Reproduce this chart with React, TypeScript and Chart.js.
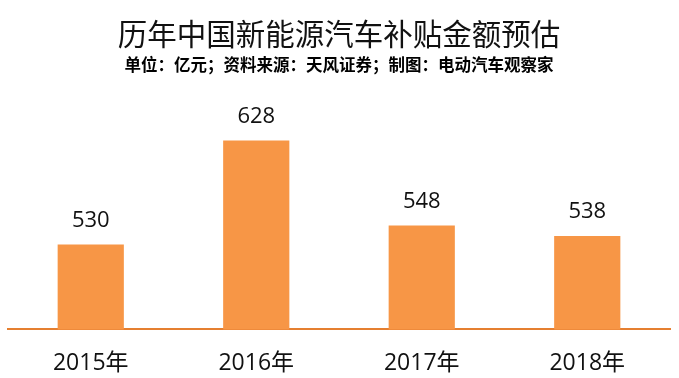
import React, { useEffect, useRef } from "react";
import { Chart, registerables } from "chart.js";

Chart.register(...registerables);

const categories = ["2015年", "2016年", "2017年", "2018年"];
const subsidyValues = [530, 628, 548, 538];
const titleText = "历年中国新能源汽车补贴金额预估";
const subtitleText = "单位：亿元；资料来源：天风证券；制图：电动汽车观察家";

const valueLabelPlugin = {
  id: "valueLabels",
  afterDatasetsDraw(chart: any) {
    const ctx = chart.ctx;
    const meta = chart.getDatasetMeta(0);
    ctx.save();
    ctx.font = "22px 'Open Sans', 'Noto Sans', sans-serif";
    ctx.fillStyle = "#111111";
    ctx.textAlign = "center";
    ctx.textBaseline = "middle";
    meta.data.forEach((bar: any, i: number) => {
      ctx.fillText(String(subsidyValues[i]), bar.x, bar.y - 24);
    });
    ctx.restore();
  },
};

export default function App() {
  const canvasRef = useRef<HTMLCanvasElement | null>(null);

  useEffect(() => {
    if (!canvasRef.current) return;
    const chart = new Chart(canvasRef.current, {
      type: "bar",
      data: {
        labels: categories,
        datasets: [
          {
            data: subsidyValues,
            backgroundColor: "#F79646",
            borderWidth: 0,
            barPercentage: 0.8,
            categoryPercentage: 0.5,
          },
        ],
      },
      options: {
        animation: false,
        responsive: true,
        maintainAspectRatio: false,
        layout: { padding: { left: 8, right: 9, top: 0, bottom: 2 } },
        plugins: {
          legend: { display: false },
          tooltip: { enabled: false },
          title: {
            display: true,
            text: titleText,
            color: "#111111",
            font: { family: "'Noto Sans CJK SC', sans-serif", size: 29.5, weight: "normal", lineHeight: 1.2 },
            padding: { top: 16, bottom: 2 },
          },
          subtitle: {
            display: true,
            text: subtitleText,
            color: "#000000",
            font: { family: "'Noto Sans CJK SC', sans-serif", size: 16.5, weight: "bold", lineHeight: 1.2 },
            padding: { top: 1, bottom: 27 },
          },
        },
        scales: {
          x: {
            grid: { display: false, drawTicks: false },
            border: { display: true, color: "#E57F30", width: 2 },
            ticks: {
              color: "#111111",
              padding: 20,
              font: { family: "'Open Sans', 'Noto Sans CJK SC', sans-serif", size: 23 },
            },
          },
          y: {
            display: false,
            min: 450,
            max: 665,
          },
        },
      },
      plugins: [valueLabelPlugin],
    });
    return () => chart.destroy();
  }, []);

  return (
    <div style={{ position: "fixed", left: 0, top: 0, width: 679, height: 378, overflow: "hidden", background: "#ffffff" }}>
      <div style={{ position: "relative", width: 679, height: 399 }}>
        <canvas ref={canvasRef} />
      </div>
    </div>
  );
}
